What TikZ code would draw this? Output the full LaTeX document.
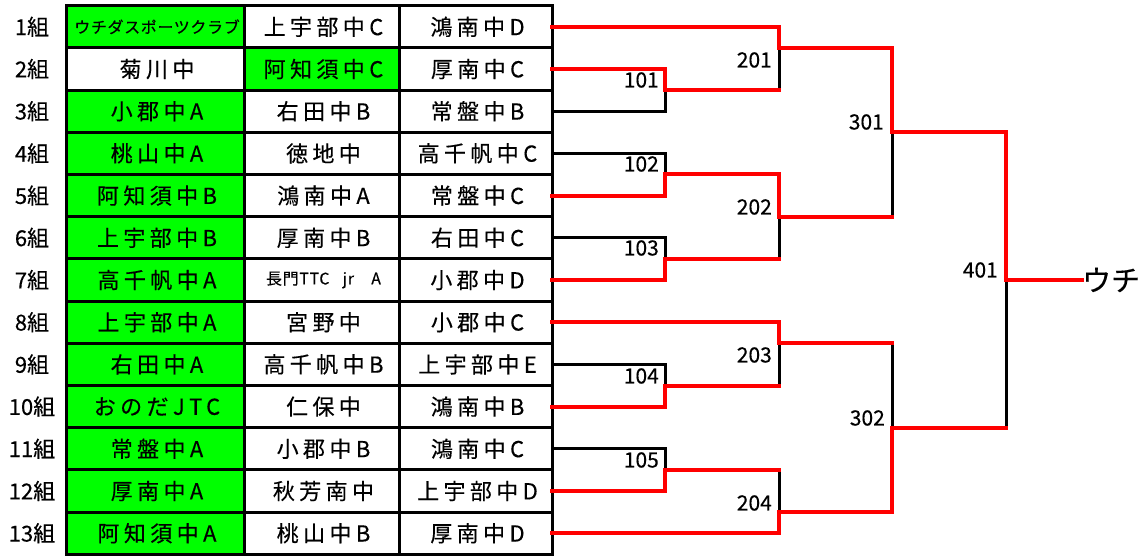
\documentclass[tikz,border=0pt]{standalone}
\usepackage{fontspec}
\setmainfont{Noto Sans CJK JP}[FakeBold=0.3]
\newfontfamily\cellfont[LetterSpace=20,FakeBold=0.3]{Noto Sans CJK JP}
\newfontfamily\smallcellfont[LetterSpace=4,FakeBold=0.3]{Noto Sans CJK JP}
\tikzset{
  cell/.style={inner sep=0pt, font=\cellfont\fontsize{22pt}{24pt}\selectfont},
  grp/.style={inner sep=0pt, font=\fontsize{22pt}{24pt}\selectfont},
  num/.style={inner sep=0pt, anchor=east, font=\fontsize{21pt}{23pt}\selectfont},
  grid/.style={line width=3pt, black},
  winline/.style={line width=4pt, red, line join=miter, line cap=rect},
  loseline/.style={line width=3pt, black, line cap=rect},
}
\begin{document}
\begin{tikzpicture}[x=1pt,y=-1pt]
\useasboundingbox (0,0) rectangle (1140,556);
% green cells
\fill[green] (66,5.7) rectangle (244,47.9);
\fill[green] (66,90.1) rectangle (244,554.3);
\fill[green] (244,47.9) rectangle (399,90.1);
% grid
\draw[grid] (66,5.7) rectangle (552,554.3);
\draw[grid] (244,5.7) -- (244,554.3);
\draw[grid] (399,5.7) -- (399,554.3);
\foreach \k in {1,...,12} {
  \draw[grid] (66,{5.7+42.2*\k}) -- (552,{5.7+42.2*\k});
}
% rows
\foreach \r/\ta/\tb/\tc in {
  1/{\smallcellfont\fontsize{16pt}{18pt}\selectfont ウチダスポーツクラブ}/上宇部中C/鴻南中D,
  2/菊川中/阿知須中C/厚南中C,
  3/小郡中A/右田中B/常盤中B,
  4/桃山中A/徳地中/高千帆中C,
  5/阿知須中B/鴻南中A/常盤中C,
  6/上宇部中B/厚南中B/右田中C,
  7/高千帆中A/{\smallcellfont\fontsize{16pt}{18pt}\selectfont 長門TTC\hspace{9pt} jr\hspace{13pt} A}/小郡中D,
  8/上宇部中A/宮野中/小郡中C,
  9/右田中A/高千帆中B/上宇部中E,
  10/おのだJTC/仁保中/鴻南中B,
  11/常盤中A/小郡中B/鴻南中C,
  12/厚南中A/秋芳南中/上宇部中D,
  13/阿知須中A/桃山中B/厚南中D} {
  \pgfmathsetmacro\yy{42.2*\r-15.4}
  \node[grp] (g\r) at (32,\yy) {\r{}組};
  \node[cell] (a\r) at (157,\yy) {\ta};
  \node[cell] (b\r) at (323.5,\yy) {\tb};
  \node[cell] (c\r) at (477.5,\yy) {\tc};
  \coordinate (e\r) at (552,\yy);
}
% junctions
\coordinate (m101) at (665,90.1);
\coordinate (m102) at (665,174.5);
\coordinate (m103) at (665,258.9);
\coordinate (m104) at (665,385.5);
\coordinate (m105) at (665,469.9);
\coordinate (m201) at (779,47.9);
\coordinate (m202) at (779,216.7);
\coordinate (m203) at (779,343.3);
\coordinate (m204) at (779,512.1);
\coordinate (m301) at (892,132.3);
\coordinate (m302) at (892,427.7);
\coordinate (m401) at (1006,280);
\node[inner sep=0pt, anchor=west, font=\fontsize{29pt}{31pt}\selectfont] (champ) at (1082,280) {ウチ};
% losing lines
\draw[loseline] (e3) -| (m101);
\draw[loseline] (e4) -| (m102);
\draw[loseline] (e6) -| (m103);
\draw[loseline] (e9) -| (m104);
\draw[loseline] (e11) -| (m105);
\draw[loseline] (m201) -- (m201 |- m101);
\draw[loseline] (m202) -- (m202 |- m103);
\draw[loseline] (m203) -- (m203 |- m104);
\draw[loseline] (m204) -- (m204 |- m105);
\draw[loseline] (m301) -- (m301 |- m202);
\draw[loseline] (m302) -- (m302 |- m203);
\draw[loseline] (m401) -- (m401 |- m302);
% winning lines
\draw[winline] (e1) -| (m201) -| (m301) -| (m401) -- (champ.west);
\draw[winline] (e2) -| (m101) -- (m101 -| m201);
\draw[winline] (e5) -| (m102) -| (m202) -- (m202 -| m301);
\draw[winline] (e7) -| (m103) -- (m103 -| m202);
\draw[winline] (e8) -| (m203) -- (m203 -| m302);
\draw[winline] (e10) -| (m104) -- (m104 -| m203);
\draw[winline] (e12) -| (m105) -- (m105 -| m204);
\draw[winline] (e13) -| (m204) -| (m302) -- (m302 -| m401);
% match labels
\node[num] (l101) at (659,80) {101};
\node[num] (l102) at (659,164) {102};
\node[num] (l103) at (659,248) {103};
\node[num] (l104) at (659,376) {104};
\node[num] (l105) at (659,460) {105};
\node[num] (l201) at (772,60) {201};
\node[num] (l202) at (772,207) {202};
\node[num] (l203) at (772,355) {203};
\node[num] (l204) at (772,503) {204};
\node[num] (l301) at (884,122) {301};
\node[num] (l302) at (885,418) {302};
\node[num] (l401) at (998,270) {401};
\end{tikzpicture}
\end{document}
